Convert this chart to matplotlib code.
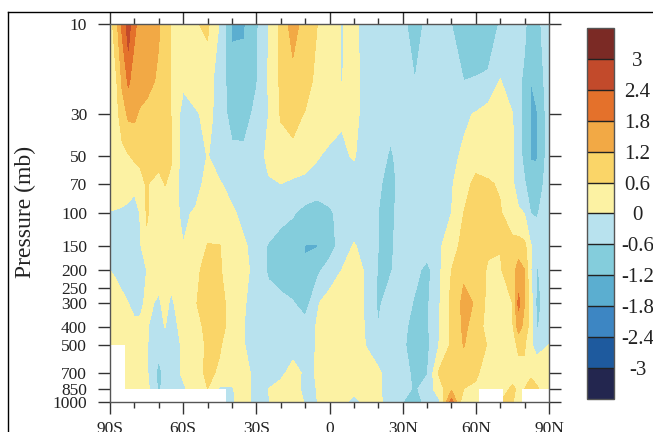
import numpy as np
import matplotlib
matplotlib.use("Agg")
import matplotlib.pyplot as plt
from matplotlib.patches import Rectangle
from matplotlib.lines import Line2D

plt.rcParams["font.family"] = ["Liberation Serif", "DejaVu Serif"]

lats = [-90, -87.5, -85, -82.5, -80, -77.5, -75, -70, -67.5, -65, -60, -55, -50, -45, -40, -35, -30, -25, -20, -15, -10, -5,
        0, 5, 10, 15, 20, 25, 30, 35, 40, 45, 50, 55, 60, 65, 70, 75, 77.5, 80, 82.5, 85, 90]

# one list per pressure level
p10 = [0.3, 1.0, 1.9, 2.7, 1.9, 1.6, 1.5, 1.25, 0.9, 0.6, 0.3, 0.55, 0.7, -0.05, -1.3, -1.25, -0.7, 0.0, 0.75, 1.5, 0.9, 0.6,
       0.3, -0.02, 0.1, -0.2, -0.3, -0.3, -0.5, -0.8, -0.5, -0.2, -0.6, -1.0, -1.0, -0.9, -0.55, -0.3, -0.3, -0.5, -0.9, -0.75, -0.3]
p20 = [0.2, 0.5, 1.3, 1.9, 1.5, 1.45, 1.4, 1.1, 0.85, 0.6, 0.1, 0.35, 0.25, -0.3, -0.9, -1.0, -0.65, 0.05, 0.7, 0.9, 0.9, 0.4,
       0.3, -0.02, 0.2, -0.2, -0.3, -0.3, -0.4, -0.6, -0.4, -0.3, -0.4, -0.6, -0.55, -0.5, 0.03, -0.35, -0.45, -0.75, -1.2, -1.0, -0.3]
p30 = [0.15, 0.4, 0.9, 1.3, 1.3, 1.1, 1.0, 0.9, 0.75, 0.6, -0.25, -0.1, 0.2, -0.25, -0.85, -0.9, -0.4, 0.0, 0.65, 0.85, 0.55, 0.35,
       0.3, 0.05, 0.15, -0.2, -0.3, -0.4, -0.3, -0.3, -0.3, -0.3, -0.25, -0.1, 0.05, 0.3, 0.3, 0.02, -0.4, -0.8, -1.25, -1.25, -0.3]
p50 = [0.2, 0.3, 0.4, 0.55, 0.7, 0.7, 0.8, 0.85, 0.75, 0.65, -0.3, -0.4, 0.03, -0.3, -0.4, -0.4, -0.2, 0.1, 0.3, 0.35, 0.3, 0.05,
       -0.15, -0.1, 0.05, -0.3, -0.3, -0.7, -0.3, -0.3, -0.3, -0.3, -0.15, 0.1, 0.3, 0.4, 0.35, 0.1, -0.35, -0.8, -1.25, -1.25, -0.3]
p70 = [0.2, 0.3, 0.3, 0.3, 0.15, 0.45, 0.65, 0.35, 0.62, 0.5, -0.3, -0.35, 0.3, 0.05, -0.2, -0.3, -0.3, -0.05, 0.0, -0.1, -0.2, -0.3,
       -0.3, -0.3, -0.3, -0.3, -0.5, -0.85, -0.3, -0.3, -0.3, -0.25, -0.05, 0.3, 0.8, 0.65, 0.55, 0.1, -0.3, -0.55, -0.9, -0.95, -0.3]
p100 = [-0.02, -0.05, -0.1, -0.2, -0.3, 0.05, 0.65, 0.3, 0.3, 0.3, -0.15, 0.1, 0.4, 0.3, 0.1, -0.2, -0.3, -0.3, -0.4, -0.55, -0.8, -0.9,
        -0.7, -0.4, -0.3, -0.3, -0.6, -0.75, -0.3, -0.3, -0.3, -0.2, 0.0, 0.6, 0.85, 0.85, 0.65, 0.2, 0.1, -0.02, -0.6, -0.65, -0.3]
p150 = [-0.3, -0.3, -0.3, -0.3, -0.25, -0.05, 0.5, 0.3, 0.3, 0.3, 0.02, 0.3, 0.62, 0.62, 0.3, 0.1, -0.3, -0.65, -0.9, -1.0, -1.22, -1.22,
        -0.9, -0.3, 0.05, -0.2, -0.6, -0.7, -0.3, -0.3, -0.3, -0.1, 0.4, 0.75, 0.9, 0.72, 0.62, 0.85, 0.85, 0.75, 0.05, -0.3, -0.3]
p200 = [0.0, -0.1, -0.3, -0.3, -0.3, -0.2, 0.0, 0.2, 0.3, 0.15, 0.3, 0.4, 0.9, 0.65, 0.3, 0.15, -0.2, -0.7, -0.9, -1.0, -1.15, -0.75,
        -0.3, 0.0, 0.3, -0.1, -0.65, -0.65, -0.3, -0.4, -0.8, -0.1, 0.6, 1.1, 1.1, 0.5, 0.55, 0.9, 1.5, 1.2, 0.03, -0.65, -0.3]
p300 = [0.15, 0.3, 0.2, 0.0, -0.3, -0.15, 0.15, -0.1, 0.2, -0.1, 0.3, 0.55, 0.95, 0.85, 0.3, 0.05, -0.3, -0.3, -0.4, -0.55, -0.9, -0.05,
        0.25, 0.3, 0.3, -0.1, -0.7, -0.3, -0.2, -0.7, -0.7, -0.05, 0.75, 1.35, 1.15, 0.4, 0.3, 0.6, 1.95, 1.2, 0.3, -0.75, -0.3]
p400 = [0.3, 0.3, 0.3, 0.3, 0.25, 0.15, 0.05, -0.3, 0.02, -0.25, 0.2, 0.4, 0.75, 0.85, 0.3, 0.0, -0.3, -0.3, -0.3, -0.3, -0.3, 0.05,
        0.3, 0.3, 0.3, -0.05, -0.58, -0.3, -0.4, -0.9, -0.7, 0.0, 0.75, 1.3, 1.0, 0.3, 0.3, 0.5, 1.45, 1.0, 0.3, -0.65, -0.3]
p500 = [0.3, 0.3, 0.3, 0.3, 0.3, 0.2, 0.05, -0.4, -0.4, -0.35, 0.1, 0.3, 0.7, 0.65, 0.3, 0.02, -0.3, -0.3, -0.3, -0.3, -0.25, 0.05,
        0.3, 0.3, 0.3, -0.02, -0.3, -0.3, -0.5, -0.9, -0.75, 0.02, 0.7, 1.22, 0.95, 0.55, 0.2, 0.4, 0.7, 0.65, 0.1, -0.25, 0.02]
p700 = [0.3, 0.3, 0.3, 0.3, 0.3, 0.25, 0.1, -0.8, -0.4, -0.3, 0.1, 0.3, 0.75, 0.5, 0.3, 0.3, -0.3, -0.3, -0.2, 0.3, -0.15, 0.05,
        0.3, 0.3, 0.3, 0.3, 0.1, -0.3, -0.3, -0.8, -0.65, 0.7, 0.9, 0.9, 0.7, 0.3, 0.3, 0.3, 0.4, 0.5, 0.55, 0.45, 0.3]
p850 = [0.3, 0.3, 0.3, 0.3, 0.3, 0.3, 0.2, -0.7, -0.4, -0.3, -0.1, 0.3, 0.6, -0.1, -0.05, 0.3, -0.3, 0.0, 0.3, 0.3, -0.2, 0.02,
        0.3, 0.3, 0.2, 0.3, 0.1, -0.3, -0.3, -0.7, -0.3, 0.3, 1.1, 0.6, 0.5, 0.3, 0.3, 0.7, 0.5, 0.6, 0.7, 0.65, 0.3]
p1000 = [0.3, 0.3, 0.3, 0.3, 0.3, 0.3, 0.2, -0.7, -0.4, -0.3, -0.1, 0.3, 0.4, -0.1, -0.1, 0.3, -0.3, -0.02, 0.25, 0.15, -0.02, 0.0,
         0.3, 0.2, -0.2, 0.2, 0.1, -0.2, -0.6, -0.9, -0.4, -0.1, 2.1, 0.05, 0.3, 0.5, 0.6, 0.65, 0.3, 0.4, 0.4, 0.4, 0.3]

plevs = [10, 20, 30, 50, 70, 100, 150, 200, 300, 400, 500, 700, 850, 1000]
field = np.array([p10, p20, p30, p50, p70, p100, p150, p200, p300, p400, p500, p700, p850, p1000])

levels = [-3, -2.4, -1.8, -1.2, -0.6, 0, 0.6, 1.2, 1.8, 2.4, 3]
colors = ["#23264f", "#1e5a9e", "#3d86c3", "#5baed0", "#84cddc", "#b8e2ee",
          "#fcf2a3", "#fad568", "#f2a945", "#e4712b", "#c24a2b", "#7b2a25"]

yticks = [10, 30, 50, 70, 100, 150, 200, 250, 300, 400, 500, 700, 850, 1000]
xticks = [-90, -60, -30, 0, 30, 60, 90]
xlabels = ["90S", "60S", "30S", "0", "30N", "60N", "90N"]
xminor = [-80, -70, -50, -40, -20, -10, 10, 20, 40, 50, 70, 80]

# areas below ground with no data: lat from, lat to, p from, p to
missing = [(-90, -84, 500, 1000), (-90, -42.5, 850, 1000), (61.5, 71, 850, 1000), (79, 90, 850, 1000)]

W, H = 653, 432
fig = plt.figure(figsize=(W / 100, H / 100), dpi=100)
ax = fig.add_axes([110 / W, 1 - 402 / H, 439 / W, 378 / H])

cf = ax.contourf(lats, plevs, field, levels=levels, colors=colors[1:-1], extend="both")
cf.cmap.set_under(colors[0])
cf.cmap.set_over(colors[-1])

for lat0, lat1, p0, p1 in missing:
    ax.add_patch(Rectangle((lat0, p0), lat1 - lat0, p1 - p0, facecolor="white", edgecolor="none", zorder=2))

ax.set_yscale("log")
ax.set_ylim(1000, 10)
ax.set_xlim(-90, 90)
ax.set_yticks(yticks)
ax.set_yticklabels([str(t) for t in yticks])
ax.minorticks_off()
ax.set_xticks(xticks)
ax.set_xticklabels(xlabels)
ax.set_xticks(xminor, minor=True)

ax.tick_params(axis="both", which="major", length=8.5, width=1.0, color="#333333", labelsize=12.5, labelcolor="#222222",
               top=True, right=True)
ax.tick_params(axis="y", which="major", pad=8)
ax.tick_params(axis="x", which="major", pad=5)
ax.tick_params(axis="x", which="minor", length=4.2, width=1.0, color="#333333", top=True)
for s in ax.spines.values():
    s.set_linewidth(1.0)
    s.set_color("#555555")

fig.text(25 / W, 1 - 212 / H, "Pressure (mb)", rotation=90, fontsize=17, ha="center", va="center", color="#222222")

# colourbar, the extends are fitted inside the axes box
cax = fig.add_axes([587 / W, 1 - 399 / H, 27 / W, 371 / H])
cb = fig.colorbar(cf, cax=cax, ticks=levels, drawedges=True, extendrect=True, extendfrac=0.1)
cb.ax.set_yticklabels([("%g" % v) for v in levels])
cb.ax.tick_params(length=0, pad=17, labelsize=15, labelcolor="#222222")
for lab in cb.ax.get_yticklabels():
    lab.set_ha("center")
cb.dividers.set_color("#222222")
cb.dividers.set_linewidth(1.0)
cb.outline.set_edgecolor("#555555")
cb.outline.set_linewidth(1.0)

# frame from the original page
fig.add_artist(Line2D([8 / W, 8 / W], [0, 1 - 12 / H], color="black", lw=1.0))
fig.add_artist(Line2D([8 / W, 1], [1 - 12 / H, 1 - 12 / H], color="black", lw=1.0))

fig.savefig("out.png", dpi=100)
